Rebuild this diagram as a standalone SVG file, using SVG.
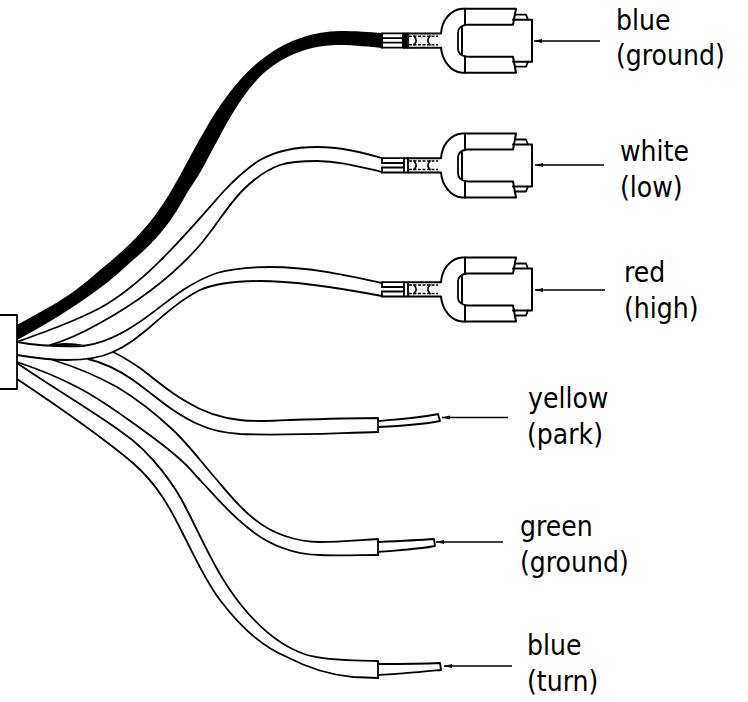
<svg xmlns="http://www.w3.org/2000/svg" xmlns:xlink="http://www.w3.org/1999/xlink" width="748" height="702" viewBox="0 0 748 702">
<style>
.l{fill:none;stroke:#000;stroke-width:1.8;stroke-linejoin:round;stroke-linecap:round}
.p{fill:none;stroke:#000;stroke-width:2;stroke-linejoin:round;stroke-linecap:round}
.b{fill:#fff;stroke:#000;stroke-width:1.8;stroke-linejoin:round}
.a{fill:none;stroke:#000;stroke-width:1.5}
.d{fill:none;stroke:#000;stroke-width:1.5;stroke-dasharray:3 1.5}
text{font-family:"DejaVu Sans Condensed","DejaVu Sans",sans-serif;font-stretch:condensed;font-size:28px;fill:#000}
</style>
<defs>
<marker id="arrow" markerWidth="8" markerHeight="5" refX="0" refY="2.5" orient="auto" markerUnits="userSpaceOnUse"><path d="M0,2.5 L8,0.5 V4.5 Z" fill="#000"/></marker>
<g id="plug">
<path class="l" d="M382,-7.3 H403 M382,-2.5 H403 M382,2 H403 M382,7 H403"/>
<path class="l" d="M382,-7.3 V-2.5 M382,2 V7"/>
<path class="l" d="M404,-7.3 V7 M408,-7.3 V7"/>
<path class="p" d="M404,-7.3 H441 C442,-20 450,-31 462,-32 H516 L513,-16 H468 M404,7 H441 C442,19 450,31 462,32 H516 L513,16 H468"/>
<path class="p" d="M465,-32 V-16 M465,16 V32"/>
<path class="l" d="M467,-16 C460,-15 458,-12 458,-8 V8 C458,12 460,15 467,16"/>
<path class="p" d="M462,-13 V13"/>
<path class="p" d="M513,-21 H532 V21 H513"/>
<path class="l" d="M516,-26 H526 L528,-21 M516,26 H526 L528,21"/>
<path class="d" d="M409,-4.5 H438 M409,4 H438"/>
<path class="l" d="M414,-4.5 C417,-1 417,1 414,4 M430,-4.5 C427,-1 427,1 430,4"/>
</g>
</defs>
<g id="connectors">
<path id="wire-black" fill="#000" d="M17,325 C40,312 60,302 77,289 C85,283 92,277 100,270 C116,257 130,245 143,230 C153,219 162,206 170,193 C182,173 193,150 205,130 C220,104 240,75 265,57 C287,40 315,31 340,31 C355,31 370,32 382,33 L382,48 C370,47 355,45 340,45 C310,45 285,55 265,72 C248,87 234,110 223,130 C218,140 212,150 207,160 C201,172 194,182 187,193 C180,206 172,219 163,230 C154,241 144,251 133,260 C122,270 111,280 100,288 C75,307 45,325 17,340 Z"/>
<path fill="#000" d="M48,345 Q65,341 85,345 Q65,347 48,345 Z"/>
<path class="l" d="M17,342 C50,330 75,321 100,308 C145,283 185,235 223,192 C236,178 247,168 260,160 C278,150 297,147 317,147 C340,147 360,152 382,158"/>
<path class="l" d="M50,345 C68,340 84,332 100,323 C140,301 172,277 200,245 C216,226 228,205 243,190 C254,179 266,170 280,165 C292,161 305,161 317,161 C340,161 360,167 382,172"/>
<path class="l" d="M17,342 C40,346 60,347 83,346 C100,344 115,337 127,330 C148,318 165,302 183,290 C194,283 205,277 217,273 C235,268 252,267 270,267 C310,267 345,275 382,283"/>
<path class="l" d="M17,355 C35,358 50,360 67,360 C85,360 100,358 113,352 C127,346 138,337 150,327 C166,313 182,299 200,290 C218,282 240,281 260,281 C300,281 345,289 382,296"/>
<path class="l" d="M113,352 C122,356 131,362 140,368 C156,380 170,393 187,402 C203,412 222,418 240,420 C257,422 272,421 290,420 C320,419 350,418 378,418 V432"/>
<path class="l" d="M88,359 C105,363 120,371 133,380 C147,390 160,401 173,410 C182,416 190,421 200,425 C213,431 226,433 240,434 C285,436 335,433 378,432"/>
<path class="l" d="M53,360 C76,367 97,376 117,387 C137,399 156,414 173,430 C189,445 202,463 217,480 C228,493 240,508 253,518 C272,534 297,542 320,542 C340,542 360,540 378,539 V555"/>
<path class="l" d="M17,362 C38,369 58,377 77,387 C97,397 115,410 133,423 C150,435 168,448 183,462 C190,468 194,474 200,480 C215,496 230,514 247,527 C268,545 295,555 320,555 C340,556 360,555 378,555"/>
<path class="l" d="M17,363 C50,386 95,412 123,433 C152,453 176,487 187,510 C201,537 213,566 230,590 C250,619 276,645 307,655 C330,661 355,660 378,661 V678"/>
<path class="l" d="M17,379 C50,401 95,431 133,463 C160,487 172,512 182,532 C195,557 205,580 220,600 C238,624 260,646 287,657 C308,668 330,675 353,677 L378,678"/>
<path class="l" d="M378,421 C400,419 420,418 438,414 L440,421 C420,425 400,426 378,427"/>
<path class="l" d="M378,542 C400,541 420,540 434,539 L435,546 C420,549 400,550 378,552"/>
<path class="l" d="M378,664 C400,664 420,664 440,663 L441,670 C420,672 400,674 378,675"/>
<path class="a" marker-start="url(#arrow)" d="M534,41 H600"/>
<path class="a" marker-start="url(#arrow)" d="M535,165 H604"/>
<path class="a" marker-start="url(#arrow)" d="M535,290 H605"/>
<path class="a" marker-start="url(#arrow)" d="M442,417.5 H508"/>
<path class="a" marker-start="url(#arrow)" d="M436,542 H503"/>
<path class="a" marker-start="url(#arrow)" d="M444,666 H512"/>
</g>
<g id="housing"><path class="b" d="M-2,315 H17 V389 H-2 Z"/></g>
<g id="plug-blue"><use xlink:href="#plug" href="#plug" transform="translate(0,40.7)"/><rect x="380" y="33" width="3" height="15" fill="#000"/><rect x="402" y="33" width="5" height="15" fill="#000"/></g>
<g id="plug-white"><use xlink:href="#plug" href="#plug" transform="translate(0,165.5)"/></g>
<g id="plug-red"><use xlink:href="#plug" href="#plug" transform="translate(0,289.5)"/></g>
<g id="labels">
<text x="616" y="30">blue</text><text x="616" y="65">(ground)</text>
<text x="620" y="161">white</text><text x="620" y="197">(low)</text>
<text x="624" y="282">red</text><text x="624" y="318">(high)</text>
<text x="528" y="408">yellow</text><text x="527" y="444">(park)</text>
<text x="520" y="536">green</text><text x="520" y="572">(ground)</text>
<text x="527" y="655">blue</text><text x="527" y="691">(turn)</text>
</g>
</svg>
